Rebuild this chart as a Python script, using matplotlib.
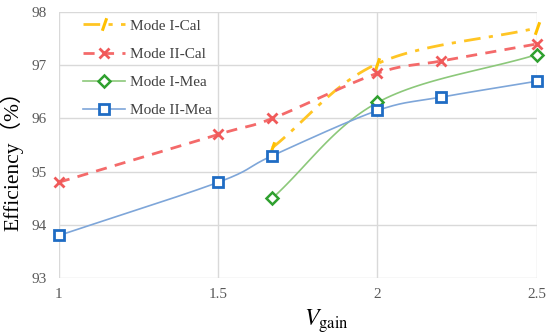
import matplotlib
matplotlib.use("Agg")
import matplotlib.pyplot as plt
import numpy as np

### DATA ###
x_i_cal = [1.67, 2.0, 2.5]
y_i_cal = [95.45, 97.03, 97.7]

x_ii_cal = [1.0, 1.5, 1.67, 2.0, 2.2, 2.5]
y_ii_cal = [94.8, 95.7, 96.0, 96.85, 97.08, 97.4]

x_i_mea = [1.67, 2.0, 2.5]
y_i_mea = [94.5, 96.3, 97.2]

x_ii_mea = [1.0, 1.5, 1.67, 2.0, 2.2, 2.5]
y_ii_mea = [93.8, 94.8, 95.3, 96.15, 96.4, 96.7]

x_ticks = [1, 1.5, 2, 2.5]
y_ticks = [93, 94, 95, 96, 97, 98]


def smooth(xs, ys, n=30):
    # Catmull-Rom curve through the points (like Excel's smoothed line)
    p = np.column_stack([xs, ys]).astype(float)
    p = np.vstack([2 * p[0] - p[1], p, 2 * p[-1] - p[-2]])
    out = []
    t = np.linspace(0, 1, n)[:, None]
    for i in range(1, len(p) - 2):
        p0, p1, p2, p3 = p[i - 1], p[i], p[i + 1], p[i + 2]
        seg = 0.5 * ((2 * p1) + (-p0 + p2) * t
                     + (2 * p0 - 5 * p1 + 4 * p2 - p3) * t ** 2
                     + (-p0 + 3 * p1 - 3 * p2 + p3) * t ** 3)
        out.append(seg)
    out = np.vstack(out)
    return out[:, 0], out[:, 1]


plt.rcParams['font.family'] = ['Liberation Serif', 'Noto Sans CJK SC']
plt.rcParams['mathtext.fontset'] = 'stix'

fig = plt.figure(figsize=(5.5, 3.35), dpi=100)
ax = fig.add_axes([0.107, 0.17, 0.869, 0.794])

series = [
    (x_i_cal, y_i_cal, "Mode I-Cal",
     dict(color='#FFC524', ls=(0, (6, 3, 1.5, 3)), lw=2.0),
     dict(marker=[(-0.35, -1), (0.35, 1)], ms=9, mew=2.2, mec='#FFC000')),
    (x_ii_cal, y_ii_cal, "Mode II-Cal",
     dict(color='#F46A6A', ls=(0, (4, 3)), lw=2.0),
     dict(marker='x', ms=7, mew=2.0, mec='#F05A5A')),
    (x_i_mea, y_i_mea, "Mode I-Mea",
     dict(color='#8CC87A', ls='-', lw=1.2),
     dict(marker='D', ms=6, mew=1.8, mec='#2FA02F', mfc='white')),
    (x_ii_mea, y_ii_mea, "Mode II-Mea",
     dict(color='#7EA6D9', ls='-', lw=1.2),
     dict(marker='s', ms=7, mew=2.0, mec='#1F6CC4', mfc='white')),
]

handles = []
for xs, ys, label, line_kw, mk_kw in series:
    sx, sy = smooth(xs, ys)
    ax.plot(sx, sy, zorder=3, clip_on=False, **line_kw)
    ax.plot(xs, ys, ls='none', zorder=4, clip_on=False, **mk_kw)
    h, = ax.plot([], [], label=label, **line_kw, **mk_kw)
    handles.append(h)

ax.set_xlim(1, 2.5)
ax.set_ylim(93, 98)
ax.set_xticks(x_ticks)
ax.set_xticklabels([str(v) for v in x_ticks])
ax.set_yticks(y_ticks)
ax.grid(True, color='#D9D9D9', lw=1.0)
ax.set_axisbelow(True)
for s in ax.spines.values():
    s.set_visible(False)
ax.tick_params(length=0, labelsize=11, labelcolor='#595959')
ax.tick_params(axis='x', pad=7)
ax.tick_params(axis='y', pad=8.5)

ax.set_ylabel("Efficiency（%）", fontsize=15.5)
ax.yaxis.set_label_coords(-0.074, 0.46)
ax.set_xlabel(r"$V_{\mathrm{gain}}$", fontsize=17)
ax.xaxis.set_label_coords(0.56, -0.108)

ax.legend(handles=handles, loc='upper left', bbox_to_anchor=(0.038, 0.997),
          borderaxespad=0, frameon=False, fontsize=11, handlelength=2.75,
          handletextpad=0.3, labelspacing=0.95, labelcolor='#404040')

fig.savefig("out.png", dpi=100)
